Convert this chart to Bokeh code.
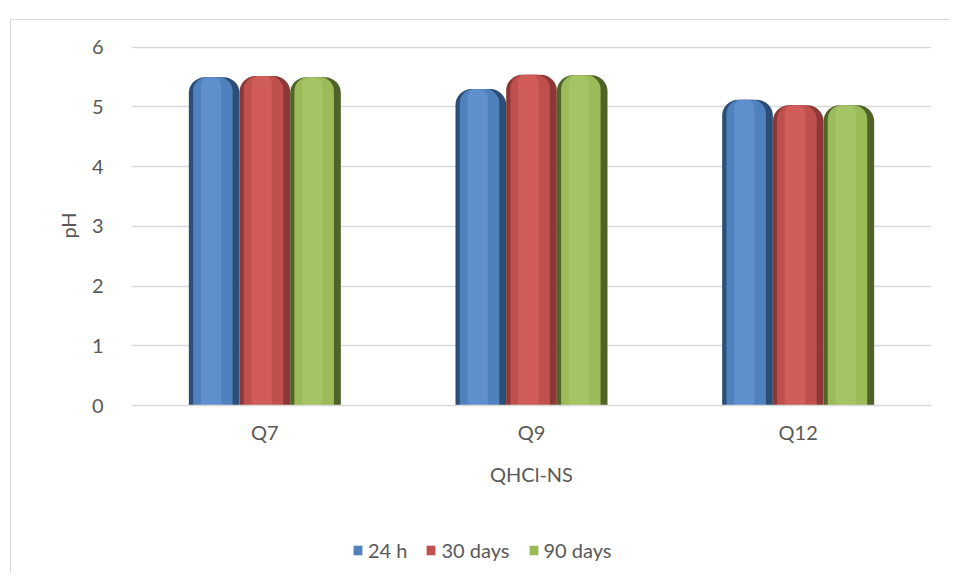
from bokeh.plotting import figure
from bokeh.layouts import column
from bokeh.models import ColumnDataSource, Range1d, FactorRange, Legend, LegendItem, FixedTicker
from bokeh.transform import dodge
from bokeh.embed import file_html
from bokeh.resources import INLINE

categories = ["Q7", "Q9", "Q12"]
series = ["24 h", "30 days", "90 days"]
v_24h = [5.50, 5.30, 5.12]
v_30d = [5.52, 5.54, 5.03]
v_90d = [5.50, 5.53, 5.03]
y_ticks = [0, 1, 2, 3, 4, 5, 6]

dark = ["#2c4d75", "#8c3836", "#4f6228"]
mid = ["#4f81bd", "#c0504d", "#9bbb59"]
light = ["#6a9ad6", "#da6663", "#acc96c"]

src = ColumnDataSource(dict(cat=categories, s0=v_24h, s1=v_30d, s2=v_90d))
cols = ["s0", "s1", "s2"]

FONT = "Lato"
TXT = "#595959"
FS = "20px"

p = figure(x_range=FactorRange(*categories), y_range=Range1d(0, 6.03),
           width=939, height=489, output_backend="svg", toolbar_location=None,
           min_border_left=120, min_border_right=19, min_border_top=25, min_border_bottom=104)
p.outline_line_color = None
p.background_fill_color = "white"

p.ygrid.grid_line_color = "#d9d9d9"
p.ygrid.grid_line_width = 1.5
p.xgrid.grid_line_color = None
p.yaxis.ticker = FixedTicker(ticks=y_ticks)

for ax in (p.xaxis[0], p.yaxis[0]):
    ax.major_tick_line_color = None
    ax.minor_tick_line_color = None
    ax.major_label_text_font = FONT
    ax.major_label_text_font_size = FS
    ax.major_label_text_color = TXT
    ax.axis_label_text_font = FONT
    ax.axis_label_text_font_size = FS
    ax.axis_label_text_color = TXT
    ax.axis_label_text_font_style = "normal"

p.yaxis.axis_line_color = None
p.xaxis.axis_line_color = "#d9d9d9"
p.xaxis.axis_line_width = 1.5
p.yaxis.axis_label = "pH"
p.xaxis.axis_label = "QHCl-NS"
p.yaxis.major_label_standoff = 22
p.yaxis.axis_label_standoff = 9
p.xaxis.major_label_standoff = 8
p.xaxis.axis_label_standoff = 15

W = 0.19
offsets = [-W, 0.0, W]
for i, (c, off) in enumerate(zip(cols, offsets)):
    p.vbar(x=dodge("cat", off, range=p.x_range), top=c, width=W, source=src,
           fill_color=dark[i], line_color=None, border_radius=(16, 16, 0, 0))
    p.vbar(x=dodge("cat", off - 0.005, range=p.x_range), top=c, width=W * 0.78, source=src,
           fill_color=mid[i], line_color=None, border_radius=(14, 14, 0, 0))
    p.vbar(x=dodge("cat", off - 0.012, range=p.x_range), top=c, width=W * 0.4, source=src,
           fill_color=light[i], line_color=None, fill_alpha=0.6, border_radius=(8, 8, 0, 0))

# legend strip below the chart (its bars lie outside its visible range)
p2 = figure(x_range=FactorRange(*categories), y_range=Range1d(100, 101),
            width=939, height=64, output_backend="svg", toolbar_location=None,
            x_axis_location=None, y_axis_location=None,
            min_border_left=0, min_border_right=0, min_border_top=0, min_border_bottom=0)
p2.outline_line_color = None
p2.xgrid.grid_line_color = None
p2.ygrid.grid_line_color = None
items = []
for i, (c, off) in enumerate(zip(cols, offsets)):
    r = p2.vbar(x=dodge("cat", off, range=p2.x_range), top=c, width=W, source=src,
                fill_color=mid[i], line_color=None)
    items.append(LegendItem(label=series[i], renderers=[r]))

legend = Legend(items=items, orientation="horizontal", location=(221, 11),
                label_text_font=FONT, label_text_font_size=FS, label_text_color=TXT,
                glyph_width=11, glyph_height=12, label_standoff=5, spacing=18,
                border_line_color=None, background_fill_alpha=0, padding=0, margin=0)
p2.add_layout(legend, "center")

layout = column(p, p2, spacing=0)
layout.margin = (19, 0, 0, 10)
layout.styles = {"border-left": "1px solid #d9d9d9", "border-top": "1px solid #d9d9d9"}

open("out.html", "w").write(file_html(layout, INLINE))
